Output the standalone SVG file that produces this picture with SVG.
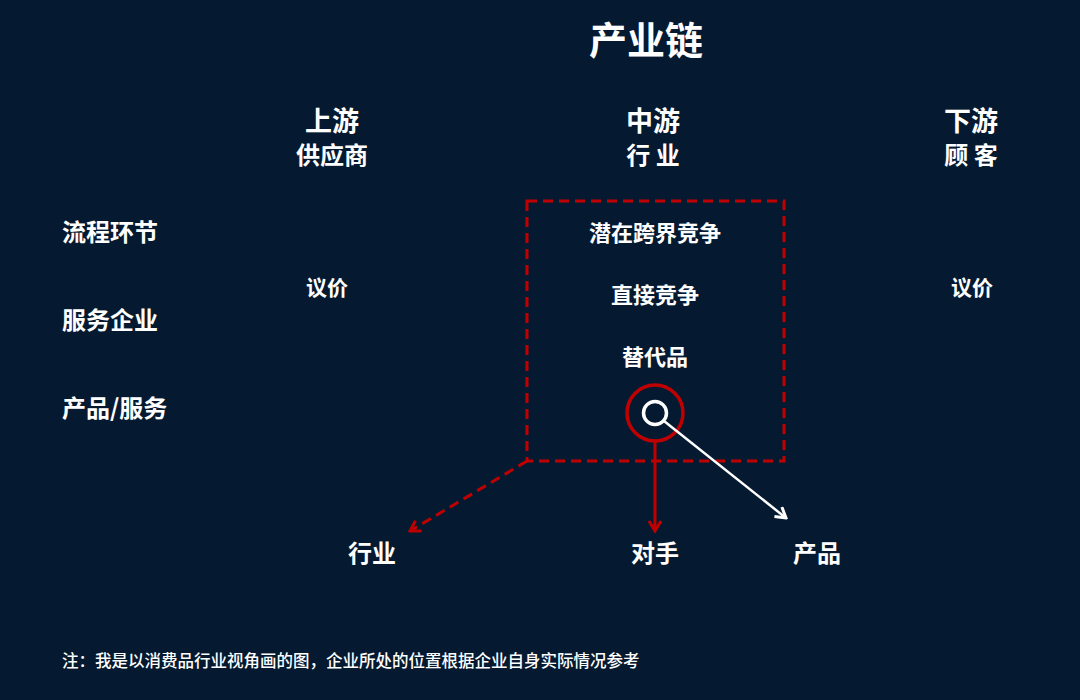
<svg xmlns="http://www.w3.org/2000/svg" width="1080" height="700" viewBox="0 0 1080 700">
<defs>
<style>
text{font-family:"Noto Sans CJK SC","Noto Sans",sans-serif;font-weight:700;fill:#ffffff}
.c{text-anchor:middle}
.h1{font-size:38px}
.h2{font-size:27px}
.h3{font-size:24px}
.lab{font-size:24px}
.bl{font-size:21px}
.bx{font-size:22px}
.note{font-size:16.5px;font-weight:500}
.red{stroke:#c00000;stroke-width:3;fill:none}
.dash{stroke-dasharray:10 6}
</style>
<marker id="ar" viewBox="0 0 14 14" refX="12" refY="7" markerWidth="14" markerHeight="14" markerUnits="userSpaceOnUse" orient="auto">
<path d="M2,1 L12,7 L2,13" fill="none" stroke="#c00000" stroke-width="3"/>
</marker>
<marker id="aw" viewBox="0 0 14 14" refX="12" refY="7" markerWidth="14" markerHeight="14" markerUnits="userSpaceOnUse" orient="auto">
<path d="M2,1 L12,7 L2,13" fill="none" stroke="#ffffff" stroke-width="3"/>
</marker>
</defs>
<rect width="1080" height="700" fill="#051a30"/>
<g id="title"><text class="c h1" x="646" y="54">产业链</text></g>
<g id="upstream"><text class="c h2" x="332" y="131">上游</text><text class="c h3" x="332" y="164">供应商</text></g>
<g id="midstream"><text class="c h2" x="653" y="131">中游</text><text class="c h3" x="653" y="164">行 业</text></g>
<g id="downstream"><text class="c h2" x="971" y="131">下游</text><text class="c h3" x="971" y="164">顾 客</text></g>
<g id="row-labels">
<text class="lab" x="62" y="241">流程环节</text>
<text class="lab" x="62" y="329">服务企业</text>
<text class="lab" x="62" y="417">产品/服务</text>
</g>
<g id="bargain-left"><text class="c bl" x="327" y="295">议价</text></g>
<g id="bargain-right"><text class="c bl" x="972" y="295">议价</text></g>
<g id="industry-box">
<rect class="red dash" x="527" y="201" width="257" height="260"/>
<text class="c bx" x="655" y="241">潜在跨界竞争</text>
<text class="c bx" x="655" y="303">直接竞争</text>
<text class="c bx" x="655" y="365">替代品</text>
</g>
<g id="focus">
<circle cx="655" cy="413" r="28" fill="none" stroke="#c00000" stroke-width="3.5"/>
<circle cx="655" cy="413" r="11.5" fill="none" stroke="#ffffff" stroke-width="3.5"/>
</g>
<g id="connectors">
<line class="red dash" x1="527" y1="461" x2="410" y2="531" marker-end="url(#ar)"/>
<line class="red" x1="655" y1="441" x2="655" y2="531" marker-end="url(#ar)"/>
<line x1="664" y1="421" x2="786" y2="518" stroke="#ffffff" stroke-width="2.5" marker-end="url(#aw)"/>
</g>
<g id="out-industry"><text class="c lab" x="372" y="562">行业</text></g>
<g id="out-rival"><text class="c lab" x="655" y="562">对手</text></g>
<g id="out-product"><text class="c lab" x="817" y="562">产品</text></g>
<g id="note"><text class="note" x="62" y="667">注：我是以消费品行业视角画的图，企业所处的位置根据企业自身实际情况参考</text></g>
</svg>
